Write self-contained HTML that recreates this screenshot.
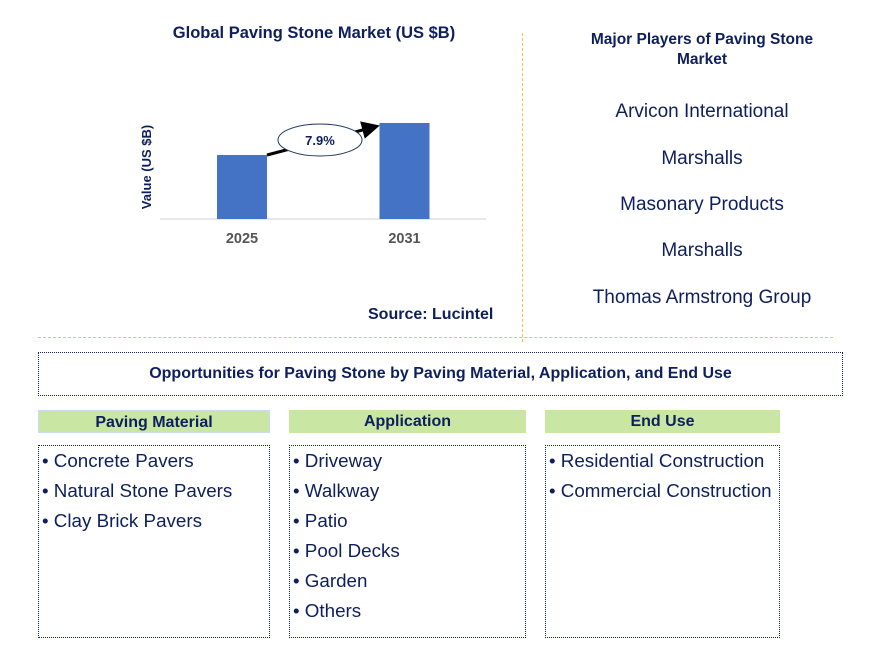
<!DOCTYPE html>
<html><head><meta charset="utf-8">
<style>
body{margin:0;width:875px;height:657px;background:#fff;font-family:"Liberation Sans",sans-serif;position:relative;overflow:hidden;color:#0d1f5c}
.abs{position:absolute}
.t{font-weight:bold;color:#0d1f5c}
.pl{position:absolute;left:522px;width:360px;text-align:center;font-size:19px;color:#0d1f5c}
.hdr{position:absolute;top:410px;height:23px;background:#c9e7a3;font-weight:bold;font-size:16px;text-align:center;line-height:23px;color:#0d1f5c;box-sizing:border-box}
.lst{position:absolute;top:445px;height:193px;border:1px dotted #0d1f5c;box-sizing:border-box;font-size:18.8px;padding:0 0 0 3px;line-height:30px;color:#0d1f5c}
</style></head><body>
<div class="abs" style="left:522px;top:33px;height:309px;border-left:1px dashed #f5c242"></div>
<div class="abs" style="left:38px;top:337px;width:795px;border-top:1px dashed #f5c242"></div>
<div class="abs t" style="left:114px;top:24px;width:400px;text-align:center;font-size:16.5px">Global Paving Stone Market (US $B)</div>
<svg class="abs" style="left:0;top:0" width="522" height="340">
<text transform="translate(151,167) rotate(-90)" text-anchor="middle" font-size="13" font-weight="bold" fill="#0d1f5c" font-family="Liberation Sans">Value (US $B)</text>
<line x1="160" y1="219" x2="486" y2="219" stroke="#d0d0d0" stroke-width="1"/>
<g id="bars"></g>
<defs><marker id="ah" markerWidth="6" markerHeight="6" refX="4" refY="3" orient="auto"><path d="M0,0 L6,3 L0,6z" fill="#000"/></marker></defs>
<line x1="267" y1="155" x2="374" y2="127" stroke="#000" stroke-width="3" marker-end="url(#ah)"/>
<ellipse cx="320" cy="140" rx="42" ry="16" fill="#fff" stroke="#1f3864" stroke-width="1"/>
<text x="320" y="145" text-anchor="middle" font-size="13" font-weight="bold" fill="#0d1f5c" font-family="Liberation Sans">7.9%</text>
</svg>
<script>
const categories=["2025","2031"];
const values=[2.0,3.0];
const g=document.getElementById('bars');
const base=219,scale=32,centers=[242,404.5],bw=50;
categories.forEach((c,i)=>{
 const h=values[i]*scale;
 const r=document.createElementNS('http://www.w3.org/2000/svg','rect');
 
 
 r.setAttribute('x',centers[i]-bw/2);r.setAttribute('y',base-h);r.setAttribute('width',bw);r.setAttribute('height',h);r.setAttribute('fill','#4472c4');
 g.appendChild(r);
 const t=document.createElementNS('http://www.w3.org/2000/svg','text');
 
 
 t.setAttribute('x',centers[i]);t.setAttribute('y',243);t.setAttribute('text-anchor','middle');t.setAttribute('font-size','14.5');t.setAttribute('font-weight','bold');t.setAttribute('fill','#555');t.setAttribute('font-family','Liberation Sans');
 t.textContent=c;g.appendChild(t);
});
</script>
<div class="abs t" style="left:368px;top:306px;font-size:16px">Source: Lucintel</div>
<div class="abs t" style="left:572px;top:30px;width:260px;text-align:center;font-size:15.5px;line-height:20px">Major Players of Paving Stone Market</div>
<div class="pl" style="top:101px">Arvicon International</div>
<div class="pl" style="top:148px">Marshalls</div>
<div class="pl" style="top:194px">Masonary Products</div>
<div class="pl" style="top:240px">Marshalls</div>
<div class="pl" style="top:287px">Thomas Armstrong Group</div>
<div class="abs t" style="left:38px;top:352px;width:805px;height:44px;border:1px dotted #0d1f5c;box-sizing:border-box;text-align:center;line-height:42px;font-size:16px">Opportunities for Paving Stone by Paving Material, Application, and End Use</div>
<div class="hdr" style="left:38px;width:232px;border:1px solid #c5dff0">Paving Material</div>
<div class="hdr" style="left:289px;width:237px">Application</div>
<div class="hdr" style="left:545px;width:235px">End Use</div>
<div class="lst" style="left:38px;width:232px">• Concrete Pavers<br>• Natural Stone Pavers<br>• Clay Brick Pavers</div>
<div class="lst" style="left:289px;width:237px">• Driveway<br>• Walkway<br>• Patio<br>• Pool Decks<br>• Garden<br>• Others</div>
<div class="lst" style="left:545px;width:235px">• Residential Construction<br>• Commercial Construction</div>
</body></html>
